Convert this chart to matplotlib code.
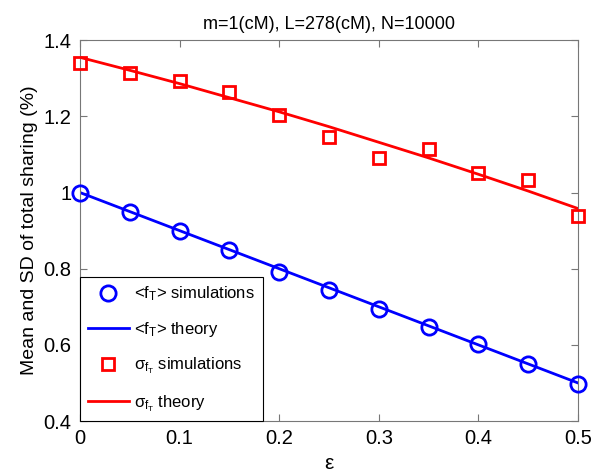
import matplotlib

matplotlib.use("Agg")
import matplotlib.pyplot as plt

plt.rcParams["font.family"] = ["Liberation Sans", "DejaVu Sans"]
plt.rcParams["mathtext.fontset"] = "custom"
plt.rcParams["mathtext.rm"] = "Liberation Sans"
plt.rcParams["mathtext.it"] = "Liberation Sans"

# epsilon grid
eps = [0.0, 0.05, 0.1, 0.15, 0.2, 0.25, 0.3, 0.35, 0.4, 0.45, 0.5]

# mean of total sharing
mean_sim = [1.0, 0.95, 0.9, 0.848, 0.792, 0.744, 0.695, 0.647, 0.601, 0.549, 0.497]
mean_theory = [1.0, 0.95, 0.9, 0.85, 0.8, 0.75, 0.7, 0.65, 0.6, 0.55, 0.5]

# SD of total sharing
sd_sim = [1.340, 1.314, 1.294, 1.263, 1.204, 1.146, 1.091, 1.115, 1.051, 1.032, 0.939]
sd_theory = [1.355, 1.321, 1.286, 1.249, 1.212, 1.173, 1.132, 1.091, 1.048, 1.004, 0.958]

fig = plt.figure(figsize=(6.08, 4.76), dpi=100)
ax = fig.add_axes([0.1316, 0.1155, 0.819, 0.8])

ax.plot(eps, mean_sim, "o", ms=11, mfc="none", mec="#0000ff", mew=2,
        clip_on=False, zorder=3, label=r"<f$_\mathregular{T}$> simulations")
ax.plot(eps, mean_theory, "-", color="#0000ff", lw=2,
        label=r"<f$_\mathregular{T}$> theory")
ax.plot(eps, sd_sim, "s", ms=9, mfc="none", mec="#ff0000", mew=2,
        clip_on=False, zorder=3, label=r"$\sigma_{f_T}$ simulations")
ax.plot(eps, sd_theory, "-", color="#ff0000", lw=2,
        label=r"$\sigma_{f_T}$ theory")

ax.set_xlim(0, 0.5)
ax.set_ylim(0.4, 1.4)
ax.set_xticks([0, 0.1, 0.2, 0.3, 0.4, 0.5])
ax.set_xticklabels(["0", "0.1", "0.2", "0.3", "0.4", "0.5"])
ax.set_yticks([0.4, 0.6, 0.8, 1.0, 1.2, 1.4])
ax.set_yticklabels(["0.4", "0.6", "0.8", "1", "1.2", "1.4"])
ax.tick_params(direction="in", top=True, right=True, labelsize=14.5,
               length=5, color="#777777", pad=6)
for s in ax.spines.values():
    s.set_color("#777777")

ax.set_xlabel("ε", fontsize=15)
ax.set_ylabel("Mean and SD of total sharing (%)", fontsize=14)
ax.set_title("m=1(cM), L=278(cM), N=10000", fontsize=13, pad=8)

leg = ax.legend(loc="lower left", fontsize=12, fancybox=False, framealpha=1,
                edgecolor="black", borderaxespad=0, handlelength=2.5,
                handletextpad=0.3, labelspacing=1.0, borderpad=0.45)
leg.get_frame().set_linewidth(0.8)

fig.savefig("out.png", dpi=100)
